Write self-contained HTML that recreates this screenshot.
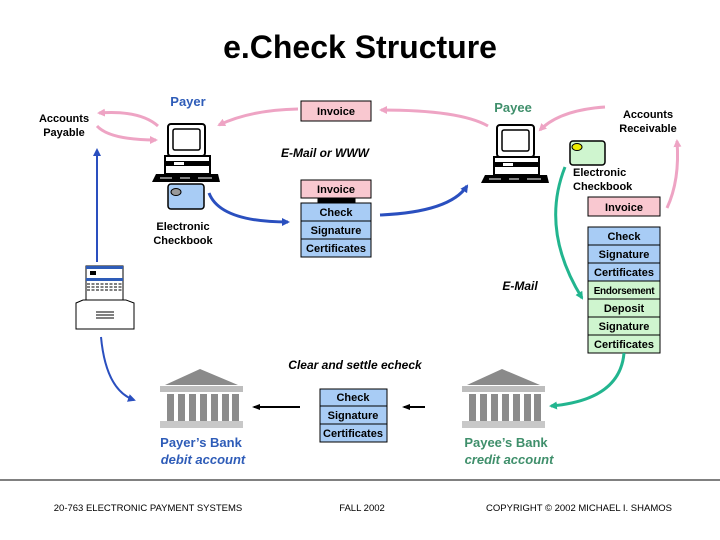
<!DOCTYPE html>
<html><head><meta charset="utf-8"><style>html,body{margin:0;padding:0;background:#fff}svg{display:block}text{font-family:"Liberation Sans",Arial,sans-serif}</style></head>
<body>
<svg width="720" height="540" viewBox="0 0 720 540" xmlns="http://www.w3.org/2000/svg">
<defs>
<marker id="ap" markerWidth="8" markerHeight="8" refX="6" refY="4" orient="auto" markerUnits="userSpaceOnUse"><path d="M0,0 L8,4 L0,8 z" fill="#eea4c4"/></marker>
<marker id="ab" markerWidth="8" markerHeight="8" refX="6" refY="4" orient="auto" markerUnits="userSpaceOnUse"><path d="M0,0 L8,4 L0,8 z" fill="#2a4fbf"/></marker>
<marker id="ag" markerWidth="8" markerHeight="8" refX="6" refY="4" orient="auto" markerUnits="userSpaceOnUse"><path d="M0,0 L8,4 L0,8 z" fill="#22b58f"/></marker>
<marker id="ak" markerWidth="8" markerHeight="8" refX="6" refY="4" orient="auto" markerUnits="userSpaceOnUse"><path d="M0,1 L8,4 L0,7 z" fill="#000"/></marker>
<g id="comp">
<rect x="16" y="0" width="37" height="32" rx="3" fill="#fff" stroke="#000" stroke-width="2"/>
<rect x="21" y="5" width="27" height="21" rx="2" fill="#fff" stroke="#000" stroke-width="1.5"/>
<rect x="13" y="32" width="45" height="18" fill="#fff" stroke="#000" stroke-width="2"/>
<rect x="14" y="37" width="43" height="5" fill="#000"/>
<rect x="22" y="38" width="10" height="3" fill="#fff"/>
<path d="M4,50 L66,50 L68,58 L0,58 z" fill="#000"/>
<g stroke="#fff" stroke-width="1"><line x1="8" y1="54" x2="20" y2="54"/><line x1="28" y1="54" x2="38" y2="54"/><line x1="46" y1="54" x2="60" y2="54"/></g>
</g>
<g id="bank">
<path d="M5,16 L40,0 L78,16 z" fill="#8a8a8a"/>
<rect x="0" y="17" width="83" height="6" fill="#bdbdbd"/>
<g fill="#8c8c8c"><rect x="7" y="25" width="7" height="27"/><rect x="18" y="25" width="7" height="27"/><rect x="29" y="25" width="7" height="27"/><rect x="40" y="25" width="7" height="27"/><rect x="51" y="25" width="7" height="27"/><rect x="62" y="25" width="7" height="27"/><rect x="72" y="25" width="7" height="27"/></g>
<rect x="0" y="52" width="83" height="7" fill="#c8c8c8"/>
</g>
</defs>

<text x="360" y="58" font-size="32" font-weight="bold" text-anchor="middle">e.Check Structure</text>

<text x="188" y="106" font-size="13" font-weight="bold" fill="#2e5cb8" text-anchor="middle">Payer</text>
<text x="64" y="122" font-size="11" font-weight="bold" text-anchor="middle">Accounts</text>
<text x="64" y="136" font-size="11" font-weight="bold" text-anchor="middle">Payable</text>
<text x="513" y="112" font-size="13" font-weight="bold" fill="#3f8f6b" text-anchor="middle">Payee</text>
<text x="648" y="118" font-size="11" font-weight="bold" text-anchor="middle">Accounts</text>
<text x="648" y="132" font-size="11" font-weight="bold" text-anchor="middle">Receivable</text>
<text x="325" y="157" font-size="12" font-weight="bold" font-style="italic" text-anchor="middle">E-Mail or WWW</text>

<g stroke="#000" stroke-width="1" font-size="11" font-weight="bold" text-anchor="middle">
<rect x="301" y="101" width="70" height="20" fill="#f9c8d0"/>
<rect x="301" y="180" width="70" height="18" fill="#f9c8d0"/>
<rect x="318" y="198" width="37" height="5" fill="#000"/>
<rect x="301" y="203" width="70" height="18" fill="#a8ccf5"/>
<rect x="301" y="221" width="70" height="18" fill="#a8ccf5"/>
<rect x="301" y="239" width="70" height="18" fill="#a8ccf5"/>
<rect x="588" y="197" width="72" height="19" fill="#f9c8d0"/>
<rect x="588" y="227" width="72" height="18" fill="#a8ccf5"/>
<rect x="588" y="245" width="72" height="18" fill="#a8ccf5"/>
<rect x="588" y="263" width="72" height="18" fill="#a8ccf5"/>
<rect x="588" y="281" width="72" height="18" fill="#cff5cf"/>
<rect x="588" y="299" width="72" height="18" fill="#cff5cf"/>
<rect x="588" y="317" width="72" height="18" fill="#cff5cf"/>
<rect x="588" y="335" width="72" height="18" fill="#cff5cf"/>
<rect x="320" y="389" width="67" height="17" fill="#a8ccf5"/>
<rect x="320" y="406" width="67" height="18" fill="#a8ccf5"/>
<rect x="320" y="424" width="67" height="18" fill="#a8ccf5"/>
</g>
<g font-size="11" font-weight="bold" text-anchor="middle">
<text x="336" y="115">Invoice</text>
<text x="336" y="193">Invoice</text>
<text x="336" y="216">Check</text>
<text x="336" y="234">Signature</text>
<text x="336" y="252">Certificates</text>
<text x="624" y="211">Invoice</text>
<text x="624" y="240">Check</text>
<text x="624" y="258">Signature</text>
<text x="624" y="276">Certificates</text>
<text x="624" y="294" font-size="10" letter-spacing="-0.3">Endorsement</text>
<text x="624" y="312">Deposit</text>
<text x="624" y="330">Signature</text>
<text x="624" y="348">Certificates</text>
<text x="353" y="401">Check</text>
<text x="353" y="419">Signature</text>
<text x="353" y="437">Certificates</text>
</g>

<use href="#comp" x="152" y="124"/>
<use href="#comp" x="481" y="125"/>
<rect x="168" y="184" width="36" height="25" rx="3" fill="#a8ccf5" stroke="#000" stroke-width="1.5"/>
<ellipse cx="176" cy="192" rx="5" ry="3.5" fill="#999" stroke="#000"/>
<rect x="570" y="141" width="35" height="24" rx="3" fill="#cff5cf" stroke="#000" stroke-width="1.5"/>
<ellipse cx="577" cy="147" rx="5" ry="3.5" fill="#ee0" stroke="#000"/>
<text x="183" y="230" font-size="11" font-weight="bold" text-anchor="middle">Electronic</text>
<text x="183" y="244" font-size="11" font-weight="bold" text-anchor="middle">Checkbook</text>
<text x="573" y="176" font-size="11" font-weight="bold">Electronic</text>
<text x="573" y="190" font-size="11" font-weight="bold">Checkbook</text>
<text x="520" y="290" font-size="12" font-weight="bold" font-style="italic" text-anchor="middle">E-Mail</text>

<!-- printer -->
<rect x="86" y="266" width="37" height="37" fill="#fff" stroke="#000"/>
<rect x="86" y="266" width="37" height="3" fill="#2e5cb8"/>
<rect x="86" y="278" width="37" height="3" fill="#2e5cb8"/>
<rect x="90" y="271" width="6" height="4" fill="#000"/>
<g stroke="#000" stroke-dasharray="3,1.5"><line x1="87" y1="284" x2="122" y2="284"/><line x1="87" y1="287" x2="122" y2="287"/><line x1="87" y1="290" x2="122" y2="290"/></g>
<path d="M76,303 L83,300 L126,300 L134,303 L134,329 L76,329 z" fill="#fff" stroke="#000"/>
<g stroke="#000"><line x1="96" y1="312" x2="114" y2="312"/><line x1="96" y1="315" x2="114" y2="315"/><line x1="96" y1="318" x2="114" y2="318"/></g>

<text x="355" y="369" font-size="12" font-weight="bold" font-style="italic" text-anchor="middle">Clear and settle echeck</text>
<use href="#bank" x="160" y="369"/>
<use href="#bank" x="462" y="369"/>
<text x="201" y="447" font-size="13" font-weight="bold" fill="#2e5cb8" text-anchor="middle">Payer’s Bank</text>
<text x="203" y="464" font-size="13" font-weight="bold" font-style="italic" fill="#2e5cb8" text-anchor="middle">debit account</text>
<text x="506" y="447" font-size="13" font-weight="bold" fill="#3f8f6b" text-anchor="middle">Payee’s Bank</text>
<text x="509" y="464" font-size="13" font-weight="bold" font-style="italic" fill="#3f8f6b" text-anchor="middle">credit account</text>

<line x1="0" y1="480" x2="720" y2="480" stroke="#000" stroke-width="1"/>
<g font-size="9.5" text-anchor="middle">
<text x="148" y="511">20-763 ELECTRONIC PAYMENT SYSTEMS</text>
<text x="362" y="511">FALL 2002</text>
<text x="579" y="511">COPYRIGHT © 2002 MICHAEL I. SHAMOS</text>
</g>

<!-- connectors -->
<g fill="none" stroke-width="3">
<path d="M298,109 Q250,110 219,125" stroke="#eea4c4" marker-end="url(#ap)"/>
<path d="M158,126 Q140,110 99,113" stroke="#eea4c4" marker-end="url(#ap)"/>
<path d="M97,126 Q110,140 156,140" stroke="#eea4c4" marker-end="url(#ap)"/>
<path d="M488,126 Q460,110 381,110" stroke="#eea4c4" marker-end="url(#ap)"/>
<path d="M605,107 Q560,110 540,130" stroke="#eea4c4" marker-end="url(#ap)"/>
<path d="M667,208 Q680,180 677,141" stroke="#eea4c4" marker-end="url(#ap)"/>
<path d="M97,262 L97,150" stroke="#2a4fbf" stroke-width="2" marker-end="url(#ab)"/>
<path d="M209,193 Q220,222 288,222" stroke="#2a4fbf" marker-end="url(#ab)"/>
<path d="M380,215 Q450,212 467,186" stroke="#2a4fbf" marker-end="url(#ab)"/>
<path d="M101,337 Q106,390 134,400" stroke="#2a4fbf" stroke-width="2" marker-end="url(#ab)"/>
<path d="M565,167 Q540,230 582,298" stroke="#22b58f" marker-end="url(#ag)"/>
<path d="M624,353 Q620,400 551,406" stroke="#22b58f" marker-end="url(#ag)"/>
<path d="M300,407 L254,407" stroke="#000" stroke-width="2" marker-end="url(#ak)"/>
<path d="M425,407 L404,407" stroke="#000" stroke-width="2" marker-end="url(#ak)"/>
</g>
</svg>
</body></html>
